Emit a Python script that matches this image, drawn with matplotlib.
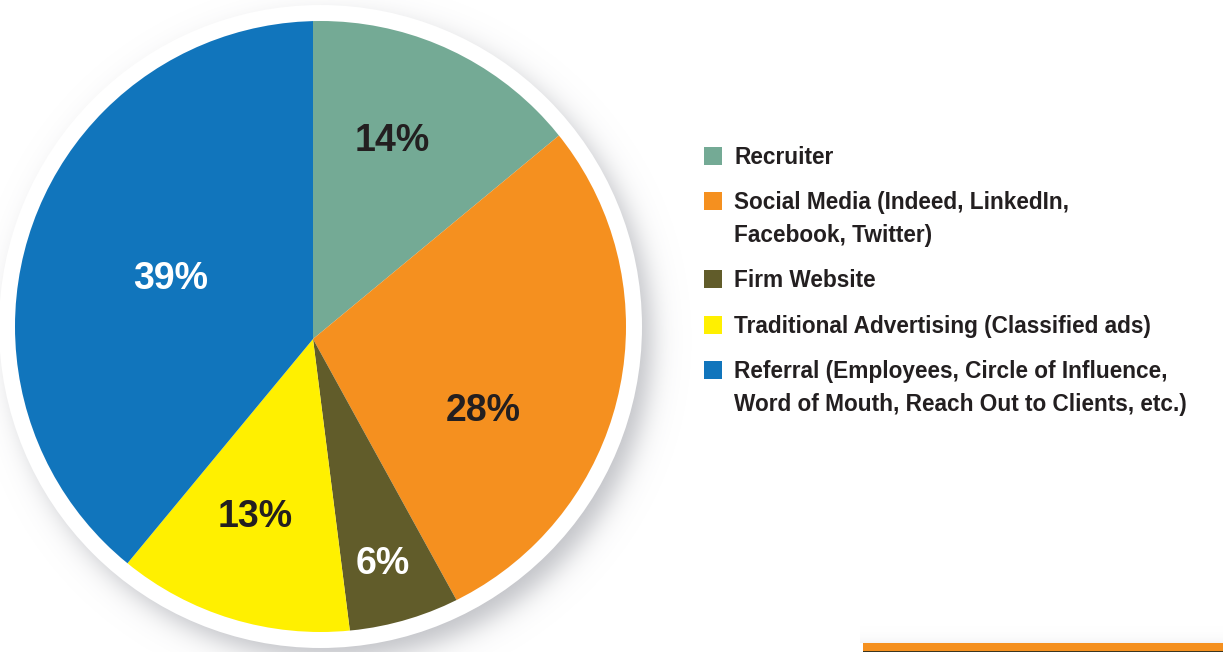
import numpy as np
import matplotlib
matplotlib.use("Agg")
import matplotlib.pyplot as plt
from matplotlib.patches import Circle, Rectangle
from matplotlib.path import Path

# Hiring channels and their share of hires (percent)
categories = [
    "Recruiter",
    "Social Media (Indeed, LinkedIn,\nFacebook, Twitter)",
    "Firm Website",
    "Traditional Advertising (Classified ads)",
    "Referral (Employees, Circle of Influence,\nWord of Mouth, Reach Out to Clients, etc.)",
]
shares = [14, 28, 6, 13, 39]
colors = ["#74aa95", "#f5901f", "#615c2a", "#fff000", "#1175bc"]
label_colors = ["#231f20", "#231f20", "#ffffff", "#231f20", "#ffffff"]

W, H = 1223, 652
fig = plt.figure(figsize=(W / 100, H / 100), dpi=100)
ax = fig.add_axes([0, 0, 1, 1])
ax.set_xlim(0, W)
ax.set_ylim(0, H)
ax.set_aspect("equal")
ax.axis("off")

FONT = "Liberation Sans"
TEXT = "#231f20"

# disc geometry (pixel units, y measured upward)
disc_c = (320.5, H - 326.5)
disc_r = 305.5
ring_r = 321.5
apex = (313, H - 339)

# soft drop shadow behind the disc (image rows run top to bottom)
yy, xx = np.mgrid[0:H, 0:W]
d = np.hypot(xx - 331.0, yy - 339.0)
alpha = 0.6 / (1.0 + np.exp((d - 320.0) / 8.0))
shadow = np.zeros((H, W, 4))
shadow[..., 0] = 150 / 255
shadow[..., 1] = 152 / 255
shadow[..., 2] = 160 / 255
shadow[..., 3] = alpha
# faint shadow above the orange band
band = (xx >= 860) & (yy < 643)
shadow[..., 3] = np.where(band, np.maximum(shadow[..., 3], 0.12 * np.exp(-(643 - yy) / 5.0)),
                          shadow[..., 3])
ax.imshow(shadow, extent=(0, W, 0, H), origin="upper", zorder=0, interpolation="bilinear")

# white rim around the pie
ax.add_patch(Circle(disc_c, ring_r, facecolor="white", edgecolor="none", zorder=1))

wedges, _ = ax.pie(
    shares,
    colors=colors,
    startangle=90,
    counterclock=False,
    center=apex,
    radius=360,
    wedgeprops=dict(linewidth=0, edgecolor="none"),
    frame=True,
)
clip_path = Path.circle(disc_c, disc_r)
for w in wedges:
    w.set_zorder(2)
    w.set_clip_on(True)
    w.set_clip_path(clip_path, ax.transData)

# percentage labels inside the slices
label_pos = [(392, 141), (483, 411), (383, 564), (255, 517), (171, 279)]
for s, (px, py), c in zip(shares, label_pos, label_colors):
    ax.text(px, H - py, f"{s}%", ha="center", va="center", color=c,
            fontsize=27, fontweight="bold", family=FONT, zorder=3)

# legend
sq = 18
sq_x = 704
text_x = 734
first_baselines = [164, 209, 287, 333, 378]
line_gap = 33
for cat, col, base in zip(categories, colors, first_baselines):
    ax.add_patch(Rectangle((sq_x, H - (base + 0.5)), sq, sq, facecolor=col,
                           edgecolor="none", zorder=3))
    for i, line in enumerate(cat.split("\n")):
        ax.text(text_x, H - (base + i * line_gap), line, ha="left", va="baseline",
                color=TEXT, fontsize=16.3, fontweight="bold", family=FONT, zorder=3)

# orange band along the bottom edge
ax.add_patch(Rectangle((863, 1), W - 863, 8, facecolor="#f5901f", edgecolor="none", zorder=3))
ax.add_patch(Rectangle((863, 0), W - 863, 1, facecolor="#3a3520", edgecolor="none", zorder=3))

ax.set_xlim(0, W)
ax.set_ylim(0, H)
fig.savefig("out.png", dpi=100, facecolor="white")
